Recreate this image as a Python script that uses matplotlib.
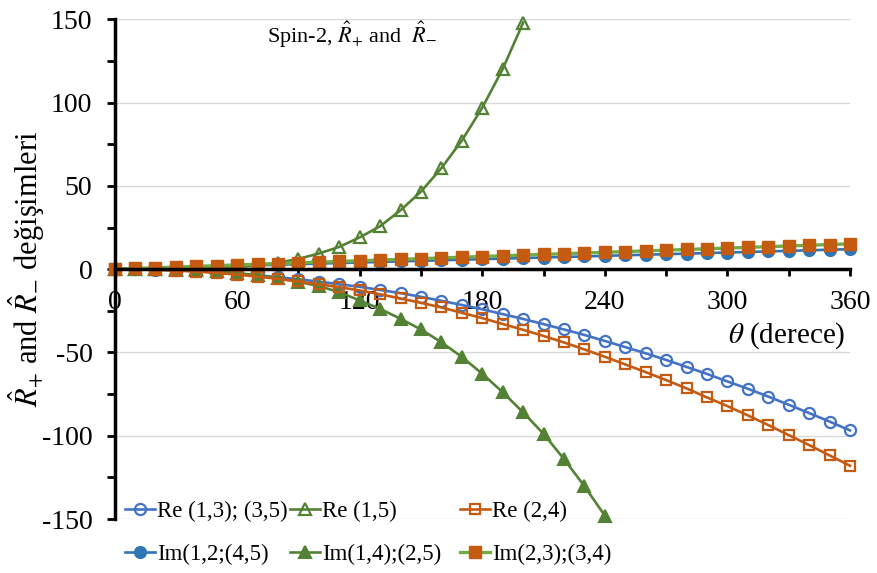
import numpy as np
import matplotlib.pyplot as plt

plt.rcParams['font.family'] = ['Liberation Serif', 'DejaVu Serif']
plt.rcParams['mathtext.fontset'] = 'stix'
plt.rcParams['axes.unicode_minus'] = False

# aci (derece)
theta = np.arange(0, 361, 10)

re_13 = [0, -0.08, -0.3, -0.67, -1.2, -1.87, -2.69, -3.67, -4.79, -6.06,
         -7.48, -9.06, -10.6, -12.5, -14.4, -16.6, -19.0, -21.5, -24.1, -27.0,
         -29.9, -33.0, -36.2, -39.5, -43.1, -46.8, -50.5, -54.5, -58.7, -62.9,
         -67.4, -71.8, -76.5, -81.4, -86.4, -91.5, -96.8]
im_12 = [0, 0.33, 0.67, 1.0, 1.33, 1.67, 2.0, 2.33, 2.67, 3.0,
         3.33, 3.67, 4.0, 4.33, 4.67, 5.0, 5.33, 5.67, 6.0, 6.33,
         6.67, 7.0, 7.33, 7.67, 8.0, 8.33, 8.67, 9.0, 9.33, 9.67,
         10.0, 10.33, 10.67, 11.0, 11.33, 11.67, 12.0]
re_15 = [0, 0.0, 0.02, 0.08, 0.24, 0.58, 1.2, 2.2, 3.8, 6.2,
         9.4, 13.4, 19.1, 25.8, 35.4, 46.6, 60.7, 77.2, 97.0, 120.2,
         148.0]
im_14 = [0, -0.01, -0.09, -0.29, -0.69, -1.34, -2.3, -3.7, -5.5, -7.6,
         -10.2, -13.8, -18.8, -23.9, -29.8, -36.2, -43.9, -52.7, -62.8, -73.9,
         -86.0, -98.9, -114.0, -130.3, -148.0]
re_24 = [0, -0.09, -0.36, -0.82, -1.46, -2.28, -3.28, -4.46, -5.83, -7.38,
         -9.1, -10.8, -12.8, -15.1, -17.6, -20.2, -23.0, -26.2, -29.4, -32.9,
         -36.4, -40.1, -44.0, -48.2, -52.6, -57.2, -61.8, -66.6, -71.6, -77.0,
         -82.2, -87.8, -93.6, -99.6, -105.6, -111.8, -118.0]
im_23 = [0, 0.42, 0.84, 1.27, 1.69, 2.11, 2.53, 2.96, 3.38, 3.8,
         4.22, 4.64, 5.07, 5.49, 5.91, 6.33, 6.76, 7.18, 7.6, 8.02,
         8.44, 8.87, 9.29, 9.71, 10.13, 10.56, 10.98, 11.4, 11.82, 12.24,
         12.67, 13.09, 13.51, 13.93, 14.36, 14.78, 15.2]

x_ticks = list(range(0, 361, 30))
x_labels = [str(t) if t % 60 == 0 else '' for t in x_ticks]
y_ticks = list(range(-150, 151, 25))
y_labels = [str(t) if t % 50 == 0 else '' for t in y_ticks]

blue = '#4472C4'
blue_d = '#2E75B6'
orange = '#C55A11'
green = '#548235'
green_l = '#70AD47'

fig = plt.figure(figsize=(8.77, 5.73), dpi=100)
ax = fig.add_axes([0.1307, 0.0942, 0.8385, 0.8721])

ms = 8
lw = 1.9
h1, = ax.plot(theta, re_13, color=blue, lw=lw, marker='o', ms=ms, mfc='none', mew=1.6,
              label='Re (1,3); (3,5)', clip_on=False)
h2, = ax.plot(theta, im_12, color=blue_d, lw=lw, marker='o', ms=ms, mew=1.5,
              label='Im(1,2;(4,5)', clip_on=False)
h3, = ax.plot(theta[:len(re_15)], re_15, color=green, lw=lw, marker='^', ms=ms + 1, mfc='none',
              mew=1.6, label='Re (1,5)', clip_on=False)
h4, = ax.plot(theta[:len(im_14)], im_14, color=green, lw=lw, marker='^', ms=ms + 1, mew=1.5,
              label='Im(1,4);(2,5)', clip_on=False)
h5, = ax.plot(theta, re_24, color=orange, lw=lw, marker='s', ms=ms - 0.5, mfc='none', mew=1.6,
              label='Re (2,4)', clip_on=False)
h6, = ax.plot(theta, im_23, color=green_l, lw=2.4, marker='s', ms=ms, mfc=orange, mec=orange,
              label='Im(2,3);(3,4)', clip_on=False)

ax.set_xlim(0, 360)
ax.set_ylim(-150, 150)

for s in ['top', 'right']:
    ax.spines[s].set_visible(False)
ax.spines['bottom'].set_position(('data', 0))
ax.spines['bottom'].set_linewidth(2.5)
ax.spines['left'].set_linewidth(2.5)

ax.set_xticks(x_ticks)
ax.set_xticklabels(x_labels)
ax.set_yticks(y_ticks)
ax.set_yticklabels(y_labels)
ax.tick_params(axis='x', direction='out', length=5, width=2, pad=10, labelsize=20)
ax.tick_params(axis='y', direction='out', length=6, width=2, pad=10, labelsize=20)

for g in [-150, -100, -50, 50, 100, 150]:
    ax.axhline(g, color='#D9D9D9', lw=1, zorder=0)

ax.set_ylabel(r'$\hat{R}_{+}$ and $\hat{R}_{-}$ değişimleri', fontsize=22)
ax.yaxis.set_label_coords(-0.092, 0.5)
ax.text(358, -40, r'$\theta$ (derece)', fontsize=21, ha='right', va='center')

fig.text(0.402, 0.939, r'Spin-2, $\hat{R}_{+}$ and  $\hat{R}_{-}$', fontsize=16,
         ha='center', va='center')

# three legend columns, two rows each
cols = [((h1, h2), 125), ((h3, h4), 290), ((h5, h6), 460)]
for i, (hs, x0) in enumerate(cols):
    leg = ax.legend(handles=list(hs), loc='upper left',
                    bbox_to_anchor=(x0 / 877, 1 - 501 / 573),
                    bbox_transform=fig.transFigure, frameon=False, fontsize=16.5,
                    handlelength=1.3, handletextpad=0.1,
                    labelspacing=0.95, borderpad=0, borderaxespad=0)
    if i < len(cols) - 1:
        ax.add_artist(leg)

fig.savefig('out.png', dpi=100)
